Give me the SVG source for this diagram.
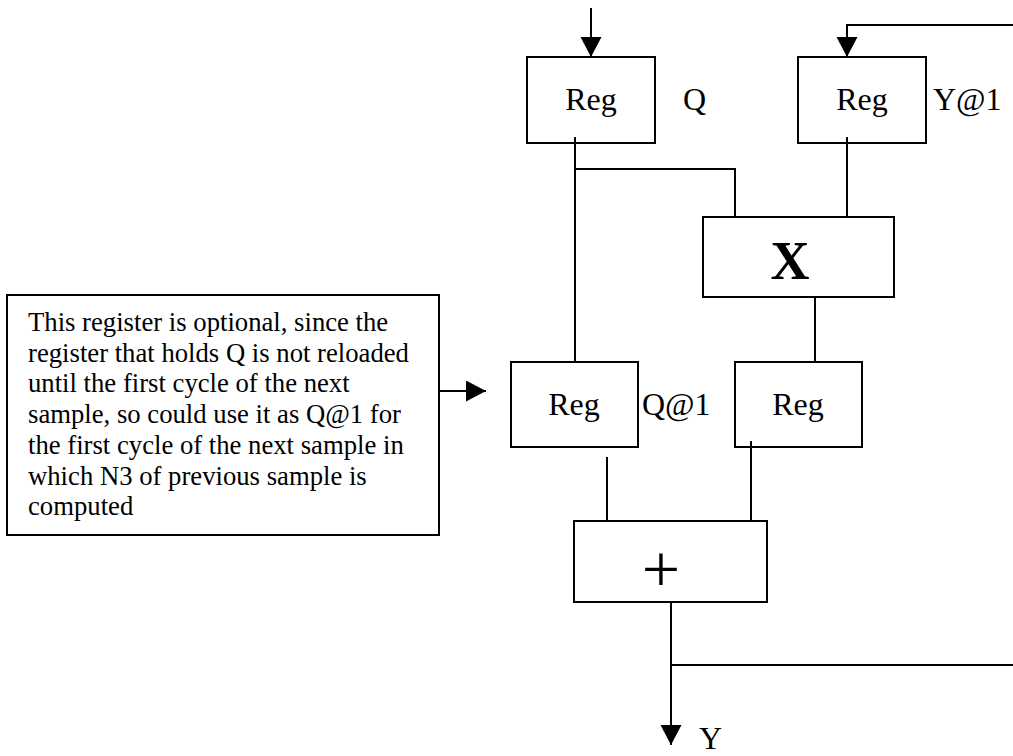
<svg xmlns="http://www.w3.org/2000/svg" width="1013" height="756" viewBox="0 0 1013 756">
<defs>
<marker id="arr" markerUnits="userSpaceOnUse" markerWidth="20" markerHeight="22" refX="20" refY="10.5" orient="auto">
<path d="M0,0 L20,10.5 L0,21 z" fill="#000"/>
</marker>
<style>
.box{fill:#fff;stroke:#000;stroke-width:2}
.lbl{font-family:"Liberation Serif","Times New Roman",serif;font-size:32px;fill:#000}
.mid{text-anchor:middle}
.note{font-family:"Liberation Serif","Times New Roman",serif;font-size:26.7px;fill:#000}
.wire{fill:none;stroke:#000;stroke-width:2}
</style>
</defs>
<rect width="1013" height="756" fill="#fff"/>
<g id="connectors">
<line class="wire" x1="591" y1="8" x2="591" y2="57" marker-end="url(#arr)"/>
<line class="wire" x1="575" y1="137" x2="575" y2="362"/>
<polyline class="wire" points="575,169 735,169 735,217"/>
<line class="wire" x1="847" y1="137" x2="847" y2="217"/>
<line class="wire" x1="815" y1="297" x2="815" y2="362"/>
<line class="wire" x1="607" y1="457" x2="607" y2="521"/>
<line class="wire" x1="751" y1="441" x2="751" y2="521"/>
<line class="wire" x1="671" y1="602" x2="671" y2="745" marker-end="url(#arr)"/>
<line class="wire" x1="671" y1="665" x2="1013" y2="665"/>
<polyline class="wire" points="1013,25 847,25 847,57" marker-end="url(#arr)"/>
<line class="wire" x1="415" y1="391" x2="486" y2="391" marker-end="url(#arr)"/>
</g>
<g id="regQ">
<rect class="box" x="527" y="57" width="128" height="86"/>
<text class="lbl mid" x="591" y="110">Reg</text>
<text class="lbl" x="683" y="110">Q</text>
</g>
<line class="wire" x1="575" y1="137" x2="575" y2="143"/>
<g id="regY1">
<rect class="box" x="798" y="57" width="128" height="86"/>
<text class="lbl mid" x="862" y="110">Reg</text>
<text class="lbl" x="933" y="110">Y@1</text>
</g>
<line class="wire" x1="847" y1="137" x2="847" y2="143"/>
<g id="mult">
<rect class="box" x="703" y="217" width="191" height="80"/>
<text class="mid" x="790" y="279" style="font-family:'Liberation Serif','Times New Roman',serif;font-size:54px;font-weight:bold">X</text>
</g>
<g id="regQ1">
<rect class="box" x="511" y="362" width="127" height="85"/>
<text class="lbl mid" x="574" y="415">Reg</text>
<text class="lbl" x="642" y="415">Q@1</text>
</g>
<g id="regP">
<rect class="box" x="735" y="362" width="127" height="85"/>
<text class="lbl mid" x="798" y="415">Reg</text>
</g>
<line class="wire" x1="751" y1="441" x2="751" y2="447"/>
<g id="add">
<rect class="box" x="574" y="521" width="193" height="81"/>
<text class="mid" x="661" y="592" style="font-family:'Liberation Serif','Times New Roman',serif;font-size:68px">+</text>
</g>
<g id="out">
<text class="lbl" x="699" y="749">Y</text>
</g>
<g id="note">
<rect class="box" x="7" y="295" width="432" height="240"/>
<text class="note" x="28" y="331">This register is optional, since the</text>
<text class="note" x="28" y="361.7">register that holds Q is not reloaded</text>
<text class="note" x="28" y="392.4">until the first cycle of the next</text>
<text class="note" x="28" y="423.1">sample, so could use it as Q@1 for</text>
<text class="note" x="28" y="453.8">the first cycle of the next sample in</text>
<text class="note" x="28" y="484.5">which N3 of previous sample is</text>
<text class="note" x="28" y="515.2">computed</text>
</g>
</svg>
